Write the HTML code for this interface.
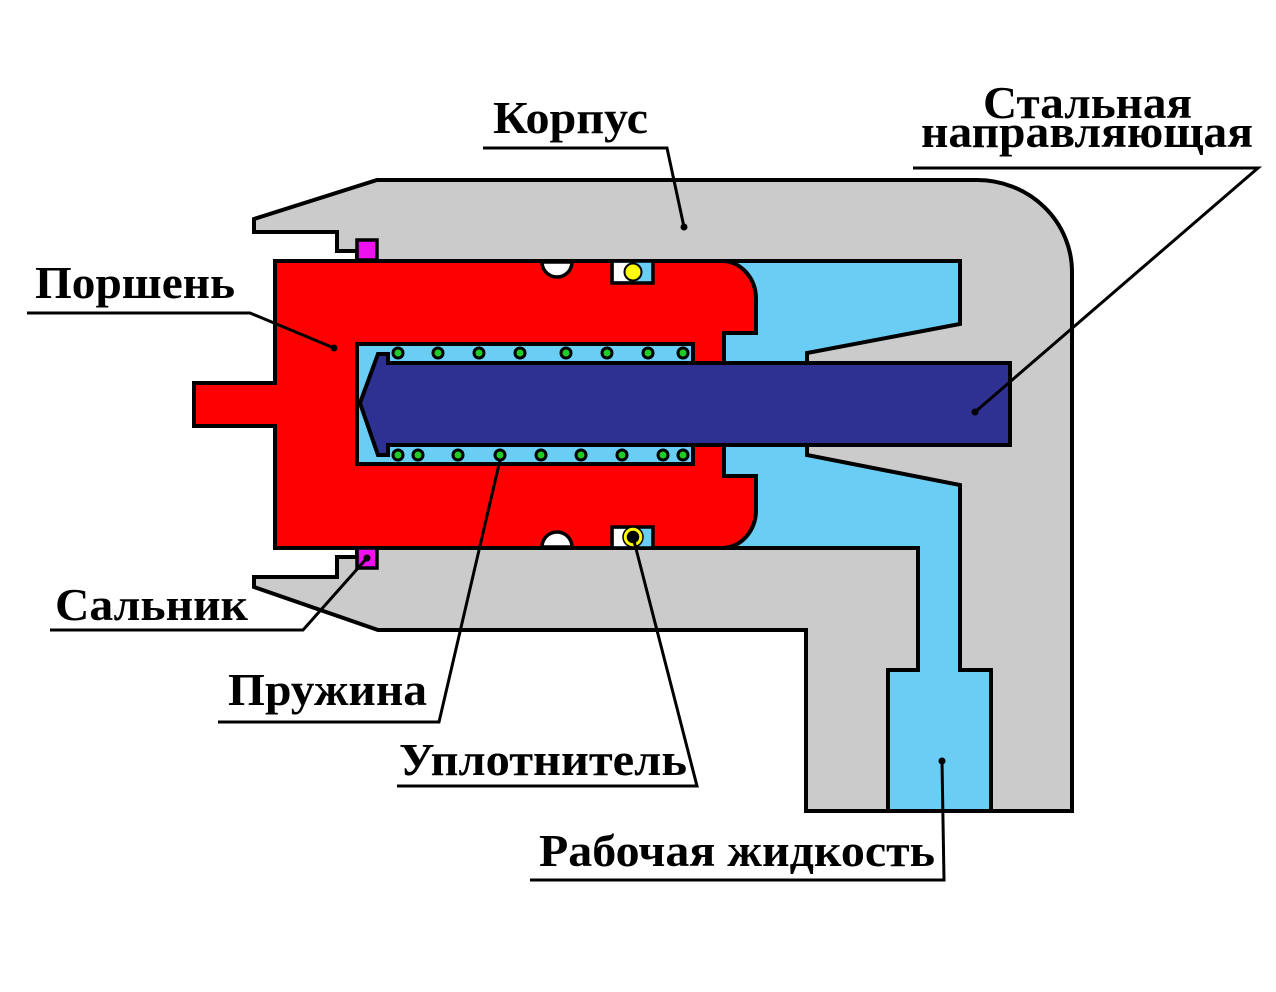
<!DOCTYPE html>
<html>
<head>
<meta charset="utf-8">
<style>
html,body{margin:0;padding:0;background:#fff;}
svg{display:block;}
text{font-family:"Liberation Serif","DejaVu Serif",serif;font-weight:bold;font-size:46px;fill:#000;}
</style>
</head>
<body>
<svg width="1276" height="992" viewBox="0 0 1276 992" xmlns="http://www.w3.org/2000/svg">
<rect width="1276" height="992" fill="#fff"/>

<!-- Housing -->
<path d="M254,219 L377,180 L977,180 A95,92 0 0 1 1072,272 L1072,811 L806,811 L806,630 L378,630 L254,587 L254,577 L337,577 L337,557 L357,557 L357,251 L337,251 L337,232 L254,232 Z"
 fill="#cbcbcb" stroke="#000" stroke-width="4" stroke-linejoin="miter"/>

<!-- Working fluid region -->
<path d="M700,261 L960,261 L960,324 L807,353 L807,455 L960,485 L960,670 L991,670 L991,811 L888,811 L888,670 L918,670 L918,548 L700,548 Z"
 fill="#6acdf3" stroke="#000" stroke-width="4"/>

<!-- Piston -->
<path d="M275,261 L722,261 A34,38 0 0 1 756,299 L756,333 L724,333 L724,476 L756,476 L756,510 A34,38 0 0 1 722,548 L275,548 L275,426 L194,426 L194,383 L275,383 Z"
 fill="#ff0000" stroke="#000" stroke-width="4"/>

<!-- Cavity -->
<rect x="357" y="344" width="336" height="120" fill="#6acdf3" stroke="#000" stroke-width="4"/>

<!-- Rod -->
<path d="M360,403 L378,354 L388,354 L388,363 L1010,363 L1010,445 L388,445 L388,455 L378,455 Z"
 fill="#2e3192" stroke="#000" stroke-width="4" stroke-linejoin="miter"/>

<!-- Spring coils top -->
<g fill="#22cc22" stroke="#000" stroke-width="3">
<circle cx="398" cy="353" r="5"/>
<circle cx="438" cy="353" r="5"/>
<circle cx="479" cy="353" r="5"/>
<circle cx="520" cy="353" r="5"/>
<circle cx="566" cy="353" r="5"/>
<circle cx="607" cy="353" r="5"/>
<circle cx="648" cy="353" r="5"/>
<circle cx="683" cy="353" r="5"/>
<!-- bottom -->
<circle cx="398" cy="455" r="5"/>
<circle cx="418" cy="455" r="5"/>
<circle cx="458" cy="455" r="5"/>
<circle cx="500" cy="455" r="5"/>
<circle cx="541" cy="455" r="5"/>
<circle cx="581" cy="455" r="5"/>
<circle cx="622" cy="455" r="5"/>
<circle cx="663" cy="455" r="5"/>
<circle cx="683" cy="455" r="5"/>
</g>

<!-- White grooves -->
<path d="M542,262 A15,15 0 0 0 572,262 Z" fill="#fff" stroke="#000" stroke-width="3.5"/>
<path d="M542,547 A15,15 0 0 1 572,547 Z" fill="#fff" stroke="#000" stroke-width="3.5"/>

<!-- Top seal box -->
<rect x="612" y="261" width="41" height="22" fill="#6acdf3" stroke="#000" stroke-width="3.5"/>
<rect x="614" y="263" width="14" height="18" fill="#fff"/>
<circle cx="633" cy="272" r="8.5" fill="#ffff00" stroke="#000" stroke-width="2"/>

<!-- Bottom seal box -->
<rect x="612" y="527" width="41" height="21" fill="#6acdf3" stroke="#000" stroke-width="3.5"/>
<rect x="614" y="529" width="14" height="17" fill="#fff"/>
<circle cx="633" cy="537" r="8" fill="#000" stroke="#ffff00" stroke-width="3.5"/>
<circle cx="633" cy="537" r="10" fill="none" stroke="#000" stroke-width="1.5"/>

<!-- Magenta seals -->
<rect x="357" y="240" width="20" height="20" fill="#ee10ee" stroke="#000" stroke-width="3.5"/>
<rect x="357" y="548" width="20" height="20" fill="#ee10ee" stroke="#000" stroke-width="3.5"/>

<!-- Leaders -->
<g fill="none" stroke="#000" stroke-width="3">
<polyline points="483,148 667,148 684,227"/>
<polyline points="913,168 1258,168 975,412"/>
<polyline points="27,313 250,313 334,348"/>
<polyline points="50,630 303,630 367,558"/>
<polyline points="218,722 439,722 500,460"/>
<polyline points="397,786 697,786 633,537"/>
<polyline points="530,880 944,880 942,761"/>
</g>
<g fill="#000">
<circle cx="684" cy="227" r="3.5"/>
<circle cx="975" cy="412" r="3.5"/>
<circle cx="334" cy="348" r="3.5"/>
<circle cx="367" cy="558" r="3.5"/>
<circle cx="633" cy="537" r="3.5"/>
<circle cx="942" cy="761" r="3.5"/>
</g>

<!-- Labels -->
<text x="493" y="133" textLength="155" lengthAdjust="spacingAndGlyphs">Корпус</text>
<text x="983" y="118" textLength="209" lengthAdjust="spacingAndGlyphs">Стальная</text>
<text x="921" y="147" textLength="332" lengthAdjust="spacingAndGlyphs">направляющая</text>
<text x="35" y="298" textLength="200" lengthAdjust="spacingAndGlyphs">Поршень</text>
<text x="55" y="620" textLength="193" lengthAdjust="spacingAndGlyphs">Сальник</text>
<text x="228" y="705" textLength="199" lengthAdjust="spacingAndGlyphs">Пружина</text>
<text x="399" y="775" textLength="288" lengthAdjust="spacingAndGlyphs">Уплотнитель</text>
<text x="539" y="866" textLength="396" lengthAdjust="spacingAndGlyphs">Рабочая жидкость</text>
</svg>
</body>
</html>
